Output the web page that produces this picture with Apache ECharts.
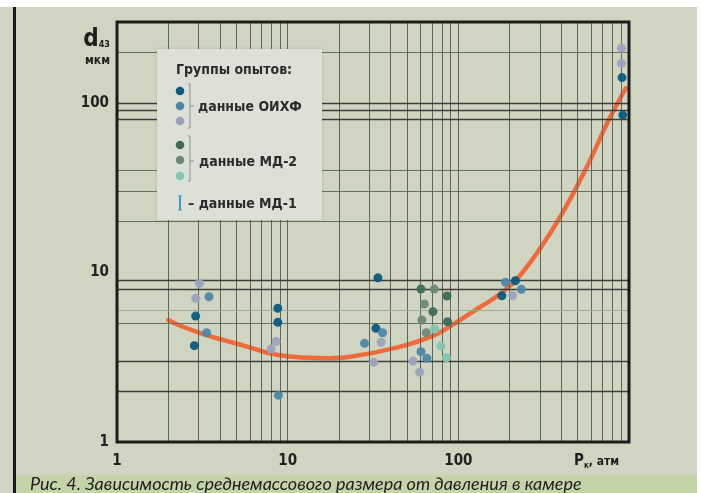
<!DOCTYPE html>
<html><head><meta charset="utf-8">
<script src="https://cdn.jsdelivr.net/npm/echarts@6/dist/echarts.min.js"></script>
<style>html,body{margin:0;padding:0;background:#cfd5c1}#c{width:701px;height:493px}</style>
</head><body><div id="c"></div>
<script>
// ---- data ----
const xTickLabels = [1, 10, 100];
const yTickLabels = [1, 10, 100];
const xGridValues = [2,3,4,5,6,7,8,9,10,20,30,40,50,60,70,80,90,100,200,300,400,500,600,700,800,900];
const yGridDark = [2,3,8,9,80,90,100];
const yGridMid = [5,20,30,40,200];
const yGridLight = [6];

// ОИХФ group (three shades)
const oihfDark = [[2.89,5.53],[2.84,3.70],[8.75,6.14],[8.75,5.08],[33.8,9.29],[32.9,4.68],[216,8.93],[180,7.29],[910,141],[920,84.7]];
const oihfMid = [[3.46,7.19],[3.35,4.41],[8.83,1.89],[36.0,4.41],[28.2,3.82],[60.4,3.41],[65.4,3.12],[189,8.74],[234,7.95]];
const oihfLight = [[3.04,8.62],[2.89,7.04],[8.56,3.92],[8.0,3.53],[35.3,3.87],[31.9,2.95],[54.2,3.00],[59.3,2.58],[208,7.29],[903,210],[903,171]];
// МД-2 group (three shades)
const md2Dark = [[60.4,7.98],[85.8,7.26],[71.0,5.87],[86.5,5.12]];
const md2Mid = [[72.3,7.98],[63.2,6.51],[61.2,5.24],[64.9,4.41]];
const md2Light = [[72.6,4.64],[79.1,3.68],[85.1,3.14]];
// fitted curve
const curve = [[2.0,5.24],[2.29,4.9],[3.35,4.27],[5.64,3.68],[8.8,3.26],[17.3,3.12],[22.7,3.17],[44.7,3.63],[72.6,4.27],[100.4,5.17],[131.5,6.17],[172.3,7.36],[225.8,9.40],[316.5,14.9],[426,24.3],[581,44.2],[761,79.2],[958,122]];

const C = {
  oihfDark:'#0b5a82', oihfMid:'#4c87a6', oihfLight:'#9ba2bf',
  md2Dark:'#3d6a57', md2Mid:'#6f8877', md2Light:'#82c6b0',
  curve:'#f06a3c'
};
const FONT = '"DejaVu Sans Condensed","Liberation Sans Narrow","DejaVu Sans",sans-serif';

const chart = echarts.init(document.getElementById('c'), null, {renderer:'canvas'});

function near(v, list){ return list.find(t => Math.abs(v - t) / t < 1e-6); }

function scat(name, data, color){
  return {name, type:'scatter', data, symbol:'circle', symbolSize:9,
    itemStyle:{color, opacity:0.95}, z:5, silent:true};
}

const gridLines = [];
xGridValues.forEach(v => gridLines.push({xAxis:v, lineStyle:{type:'solid', color:'#60655b', width:1}}));
yGridDark.forEach(v => gridLines.push({yAxis:v, lineStyle:{type:'solid', color:'#3c3f39', width:1.3}}));
yGridMid.forEach(v => gridLines.push({yAxis:v, lineStyle:{type:'solid', color:'#696e64', width:1}}));
yGridLight.forEach(v => gridLines.push({yAxis:v, lineStyle:{type:'solid', color:'#a2a89a', width:1}}));

const LX = 157, LY = 49, LZ = 50;
const TXT = {font:'bold 14px '+FONT, fill:'#2b2b2b', verticalAlign:'middle'};
function lg(el){ el.z = LZ; el.zlevel = 0; el.x = (el.x||0) + LX; el.y = (el.y||0) + LY; return el; }
const legendEls = [
  {type:'rect', shape:{x:0,y:0,width:165,height:171}, style:{fill:'#dde0d7', shadowBlur:3, shadowColor:'rgba(0,0,0,0.15)'}},
  {type:'text', x:19, y:21, style:Object.assign({text:'Группы опытов:'}, TXT)},
  {type:'circle', shape:{cx:23, cy:42, r:4.3}, style:{fill:C.oihfDark}},
  {type:'circle', shape:{cx:23, cy:57, r:4.3}, style:{fill:C.oihfMid}},
  {type:'circle', shape:{cx:23, cy:72, r:4.3}, style:{fill:C.oihfLight}},
  {type:'polyline', shape:{points:[[31,35],[33,35],[33,79],[31,79]]}, style:{stroke:'#8b9087', lineWidth:1, fill:null}},
  {type:'line', shape:{x1:33,y1:57,x2:37,y2:57}, style:{stroke:'#8b9087', lineWidth:1}},
  {type:'text', x:41, y:58, style:Object.assign({text:'данные ОИХФ'}, TXT)},
  {type:'circle', shape:{cx:23, cy:96, r:4.3}, style:{fill:C.md2Dark}},
  {type:'circle', shape:{cx:23, cy:111, r:4.3}, style:{fill:C.md2Mid}},
  {type:'circle', shape:{cx:23, cy:127, r:4.3}, style:{fill:C.md2Light}},
  {type:'polyline', shape:{points:[[31,87],[33,87],[33,132],[31,132]]}, style:{stroke:'#8b9087', lineWidth:1, fill:null}},
  {type:'line', shape:{x1:33,y1:112,x2:37,y2:112}, style:{stroke:'#8b9087', lineWidth:1}},
  {type:'text', x:42, y:113, style:Object.assign({text:'данные МД-2'}, TXT)},
  {type:'line', shape:{x1:23,y1:147,x2:23,y2:161}, style:{stroke:'#3a9ad0', lineWidth:2}},
  {type:'line', shape:{x1:21,y1:147,x2:25,y2:147}, style:{stroke:'#3a9ad0', lineWidth:1}},
  {type:'line', shape:{x1:21,y1:161,x2:25,y2:161}, style:{stroke:'#3a9ad0', lineWidth:1}},
  {type:'text', x:31, y:155, style:Object.assign({text:'– данные МД-1'}, TXT)}
].map(lg);

const option = {
  animation:false,
  backgroundColor:'#cfd5c1',
  grid:{left:117, right:72, top:22, bottom:51, show:true, borderColor:'#1c1c1c', borderWidth:3, backgroundColor:'transparent', z:10},
  xAxis:{type:'log', logBase:10, min:1, max:1000,
    axisLine:{show:false}, axisTick:{show:false}, splitLine:{show:false}, minorSplitLine:{show:false},
    axisLabel:{margin:12, color:'#222', fontFamily:FONT, fontWeight:'bold', fontSize:15,
      formatter:v => { const t = near(v, xTickLabels); return t ? String(t) : ''; }}},
  yAxis:{type:'log', logBase:10, min:1, max:300,
    axisLine:{show:false}, axisTick:{show:false}, splitLine:{show:false}, minorSplitLine:{show:false},
    axisLabel:{margin:8, color:'#222', fontFamily:FONT, fontWeight:'bold', fontSize:15,
      formatter:v => { const t = near(v, yTickLabels); return t ? String(t) : ''; }}},
  series:[
    {name:'grid', type:'line', data:[], silent:true, z:1,
      markLine:{silent:true, symbol:['none','none'], label:{show:false}, animation:false, data:gridLines}},
    {name:'fit', type:'line', data:curve, smooth:0.4, symbol:'none', silent:true, z:3,
      lineStyle:{color:C.curve, width:4.5, cap:'round'}},
    scat('ОИХФ-1', oihfDark, C.oihfDark),
    scat('ОИХФ-2', oihfMid, C.oihfMid),
    scat('ОИХФ-3', oihfLight, C.oihfLight),
    scat('МД-2-1', md2Dark, C.md2Dark),
    scat('МД-2-2', md2Mid, C.md2Mid),
    scat('МД-2-3', md2Light, C.md2Light)
  ],
  graphic:[
    {type:'rect', left:0, top:0, shape:{width:701, height:7}, style:{fill:'#ffffff'}, z:0},
    {type:'rect', left:697, top:0, shape:{width:4, height:493}, style:{fill:'#ffffff'}, z:0},
    {type:'rect', left:13, top:7, shape:{width:3, height:486}, style:{fill:'#1a1a1a'}, z:30},
    {type:'rect', left:16, top:475, shape:{width:681, height:18}, style:{fill:'#c4d3a8'}, z:30},
    {type:'text', left:30, top:475, z:31, style:{text:'Рис. 4. Зависимость среднемассового размера от давления в камере',
      font:'italic 18px Lato, "Open Sans", sans-serif', fill:'#1e1e1e'}},
    {type:'text', right:701-110, top:28, z:31, style:{
      text:'{d|d}{s|43}', rich:{d:{font:'bold 24px '+FONT, fill:'#1e1e1e'}, s:{font:'bold 9px '+FONT, fill:'#1e1e1e', padding:[10,0,0,0]}}}},
    {type:'text', right:701-110, top:55, z:31, style:{text:'мкм', font:'bold 12px '+FONT, fill:'#1e1e1e'}},
    {type:'text', left:574, top:454, z:31, style:{
      text:'{p|P}{s|к}{a|, атм}', rich:{p:{font:'bold 15px '+FONT, fill:'#1e1e1e'}, s:{font:'bold 8px '+FONT, fill:'#1e1e1e', padding:[8,0,0,0]}, a:{font:'bold 12px '+FONT, fill:'#1e1e1e'}}}}
  ].concat(legendEls)
};
chart.setOption(option);
</script>
</body></html>
